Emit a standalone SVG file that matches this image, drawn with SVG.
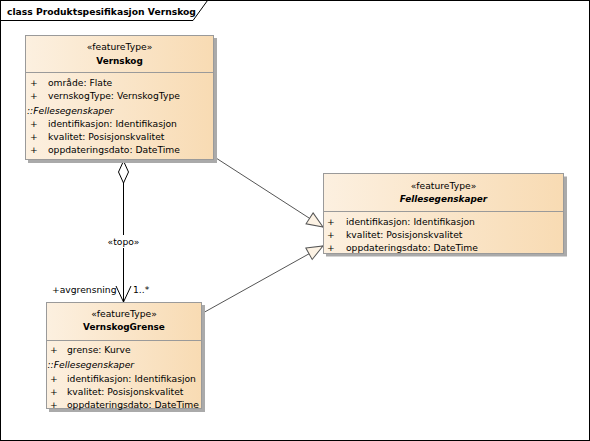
<svg xmlns="http://www.w3.org/2000/svg" width="590" height="441" viewBox="0 0 590 441">
<style>
text{font-family:"DejaVu Sans","Liberation Sans",sans-serif;font-size:9.2px;fill:#000}
.title{font-weight:bold;font-size:9.2px}
.name{font-weight:bold;font-size:8.9px;text-anchor:middle}
.abs{font-style:italic}
.st{text-anchor:middle}
.sec{font-style:italic}
.box{fill:url(#g);stroke:#9a9a9a;stroke-width:1}
.shadow{fill:#aaaaaa}
.sep{stroke:#9a9a9a;stroke-width:1}
.gen{stroke:#555;stroke-width:1;fill:none}
.assoc{stroke:#000;stroke-width:1;fill:none}
</style>
<defs>
<linearGradient id="g" x1="0" y1="0" x2="1" y2="0">
<stop offset="0" stop-color="#fcf0e0"/>
<stop offset="1" stop-color="#f8dbb3"/>
</linearGradient>
<marker id="tri" viewBox="0 0 17 14" refX="16.5" refY="7" markerWidth="17" markerHeight="14" markerUnits="userSpaceOnUse" orient="auto" overflow="visible">
<path d="M0.5,0.5 L16.5,7 L0.5,13.5 Z" fill="#fcf2e4" stroke="#555" stroke-width="1"/>
</marker>
<marker id="open" viewBox="0 0 16 16" refX="16" refY="8" markerWidth="16" markerHeight="16" markerUnits="userSpaceOnUse" orient="auto" overflow="visible">
<path d="M0,0.5 L16,8 L0,15.5" fill="none" stroke="#000" stroke-width="1"/>
</marker>
</defs>
<rect width="590" height="441" fill="#fff"/>
<g id="frame">
<rect x="0.5" y="0.5" width="589" height="440" fill="none" stroke="#000"/>
<polyline points="0.5,20.5 193,20.5 207.5,0.5" fill="none" stroke="#000"/>
<text class="title" x="7" y="15">class Produktspesifikasjon Vernskog</text>
</g>
<g id="connectors">
<line class="gen" x1="216" y1="158" x2="323" y2="227" marker-end="url(#tri)"/>
<line class="gen" x1="202" y1="313.5" x2="323" y2="246" marker-end="url(#tri)"/>
<line class="assoc" x1="123.5" y1="183" x2="123.5" y2="302" marker-end="url(#open)"/>
<polygon points="123.5,161 128.5,172 123.5,183 118.5,172" fill="#fff" stroke="#000"/>
<rect x="106" y="235" width="35" height="13" fill="#fff"/>
<text class="st" x="123.5" y="244.5">«topo»</text>
<text x="52" y="293">+avgrensning</text>
<text x="133" y="293">1..*</text>
</g>
<g id="Vernskog">
<rect class="shadow" x="28" y="38" width="189" height="125"/>
<rect class="box" x="25.5" y="35.5" width="188" height="124"/>
<line class="sep" x1="25.5" y1="72.5" x2="213.5" y2="72.5"/>
<text class="st" x="119.5" y="49.5">«featureType»</text>
<text class="name" x="119.5" y="63.5">Vernskog</text>
<text x="30" y="85.5">+</text><text x="48" y="85.5">område: Flate</text>
<text x="30" y="98.5">+</text><text x="48" y="98.5">vernskogType: VernskogType</text>
<text class="sec" x="27" y="113.5">::Fellesegenskaper</text>
<text x="30" y="126.5">+</text><text x="48" y="126.5">identifikasjon: Identifikasjon</text>
<text x="30" y="139.5">+</text><text x="48" y="139.5">kvalitet: Posisjonskvalitet</text>
<text x="30" y="152.5">+</text><text x="48" y="152.5">oppdateringsdato: DateTime</text>
</g>
<g id="Fellesegenskaper">
<rect class="shadow" x="326" y="176.5" width="241" height="80"/>
<rect class="box" x="323.5" y="173.5" width="240" height="80"/>
<line class="sep" x1="323.5" y1="211.5" x2="563.5" y2="211.5"/>
<text class="st" x="443.5" y="189">«featureType»</text>
<text class="name abs" x="443.5" y="202">Fellesegenskaper</text>
<text x="327" y="225">+</text><text x="346" y="225">identifikasjon: Identifikasjon</text>
<text x="327" y="238">+</text><text x="346" y="238">kvalitet: Posisjonskvalitet</text>
<text x="327" y="251">+</text><text x="346" y="251">oppdateringsdato: DateTime</text>
</g>
<g id="VernskogGrense">
<rect class="shadow" x="49" y="305" width="156" height="107"/>
<rect class="box" x="46.5" y="302.5" width="155" height="106"/>
<line class="sep" x1="46.5" y1="340.5" x2="201.5" y2="340.5"/>
<text class="st" x="124" y="316.5">«featureType»</text>
<text class="name" x="124" y="330">VernskogGrense</text>
<text x="50" y="352.5">+</text><text x="67" y="352.5">grense: Kurve</text>
<text class="sec" x="47.5" y="368">::Fellesegenskaper</text>
<text x="50" y="381.5">+</text><text x="67" y="381.5">identifikasjon: Identifikasjon</text>
<text x="50" y="394.5">+</text><text x="67" y="394.5">kvalitet: Posisjonskvalitet</text>
<text x="50" y="407.5">+</text><text x="67" y="407.5">oppdateringsdato: DateTime</text>
</g>
</svg>
